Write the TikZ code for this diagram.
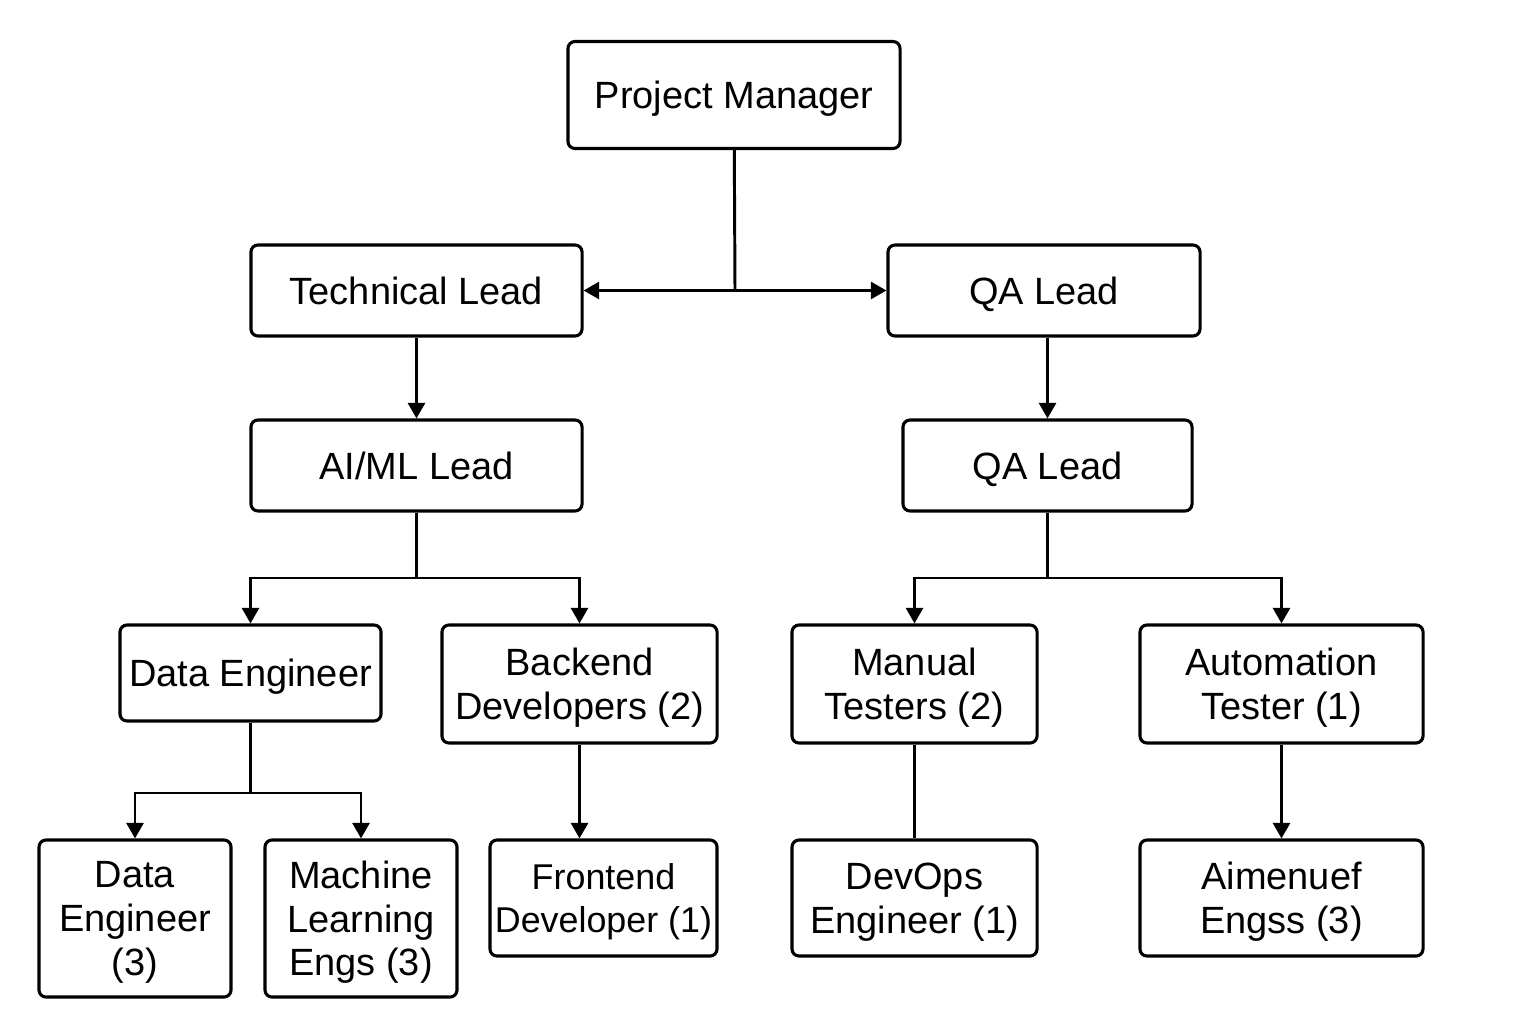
\documentclass[tikz,border=0pt]{standalone}
\usepackage{fontspec}
\setmainfont{Liberation Sans}
\usepackage{tikz}
\usetikzlibrary{arrows.meta}

\begin{document}
\begin{tikzpicture}[x = 0.025cm, y = -0.025cm,
    role/.style = {draw, line width = 2.2pt, rounded corners = 5pt, align = center,
        inner xsep = 0pt, inner ysep = 2pt, text depth = 0pt, font = \fontsize{27}{31}\selectfont},
    link/.style = {line width = 2.1pt},
    arr/.style = {link, -{Triangle[length = 11pt, width = 12pt]}}]
        \useasboundingbox (0, 0) rectangle (1536, 1024);

        \node[role, minimum width = 8.3cm, minimum height = 2.675cm] (pm) at (734, 95) {Project Manager};

        \node[role, minimum width = 8.275cm, minimum height = 2.275cm] (tl) at (416.5, 290.5) {Technical Lead};
        \node[role, minimum width = 7.8cm, minimum height = 2.275cm] (qa) at (1044, 290.5) {QA Lead};

        \node[role, minimum width = 8.275cm, minimum height = 2.275cm] (ai) at (416.5, 465.5) {AI/ML Lead};
        \node[role, minimum width = 7.225cm, minimum height = 2.275cm] (qb) at (1047.5, 465.5) {QA Lead};

        \node[role, minimum width = 6.525cm, minimum height = 2.4cm] (de) at (250.5, 673) {Data Engineer};
        \node[role, minimum width = 6.875cm, minimum height = 2.95cm] (be) at (579.5, 684) {Backend\\Developers (2)};
        \node[role, minimum width = 6.125cm, minimum height = 2.95cm] (mt) at (914.5, 684) {Manual\\Testers (2)};
        \node[role, minimum width = 7.075cm, minimum height = 2.95cm] (au) at (1281.5, 684) {Automation\\Tester (1)};

        \node[role, minimum width = 4.8cm, minimum height = 3.925cm] (dt) at (135, 918.5) {Data\\Engineer\\(3)};
        \node[role, minimum width = 4.8cm, minimum height = 3.925cm] (ml) at (361, 918.5) {Machine\\Learning\\Engs (3)};
        \node[role, minimum width = 5.675cm, minimum height = 2.9cm, font = \fontsize{25.5}{31}\selectfont] (fe) at (603.5, 898) {Frontend\\Developer (1)};
        \node[role, minimum width = 6.125cm, minimum height = 2.9cm] (do) at (914.5, 898) {DevOps\\Engineer (1)};
        \node[role, minimum width = 7.075cm, minimum height = 2.9cm] (ae) at (1281.5, 898) {Aimenuef\\Engss (3)};

        \coordinate (j0) at (735, 290.5);
        \coordinate (j1) at (416.5, 578);
        \coordinate (j2) at (1047.5, 578);
        \coordinate (j3) at (250.5, 793);

        \draw[link] (pm) -- (j0);
        \draw[arr] (j0) -- (tl);
        \draw[arr] (j0) -- (qa);

        \draw[arr] (tl) -- (ai);
        \draw[arr] (qa.south -| qb) -- (qb);

        \draw[link] (ai) -- (j1);
        \draw[arr] (j1) -| (de);
        \draw[arr] (j1) -| (be);

        \draw[link] (qb) -- (j2);
        \draw[arr] (j2) -| (mt);
        \draw[arr] (j2) -| (au);

        \draw[link] (de) -- (j3);
        \draw[arr] (j3) -| (dt);
        \draw[arr] (j3) -| (ml);

        \draw[arr] (be.south) -- (be.south |- fe.north);
        \draw[link] (mt) -- (do);
        \draw[arr] (au) -- (ae);
    \end{tikzpicture}
\end{document}
